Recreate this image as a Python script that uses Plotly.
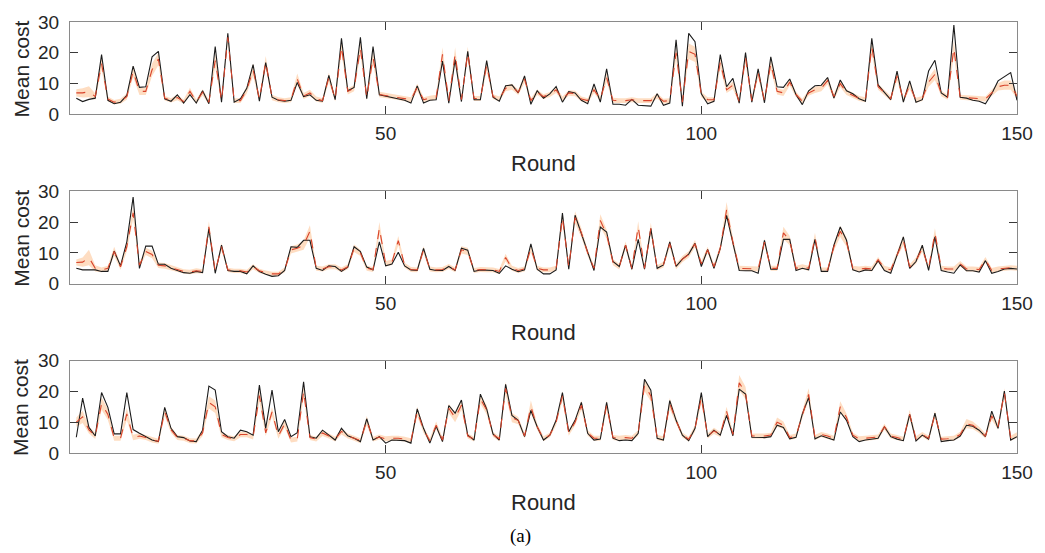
import plotly.graph_objects as go

rounds = list(range(1, 151))

# Panel 1
actual_1 = [5.3, 4.2, 4.9, 5.3, 19.4, 4.6, 3.5, 4.0, 6.2, 15.7,
            8.8, 9.0, 18.7, 20.5, 5.1, 4.3, 6.4, 3.7, 6.4, 3.7,
            7.7, 3.5, 22.0, 4.0, 26.3, 4.0, 5.1, 8.5, 16.2, 4.3,
            16.8, 5.6, 4.6, 4.3, 4.6, 10.4, 5.8, 6.4, 4.6, 4.3,
            12.7, 4.8, 24.7, 7.7, 8.8, 25.0, 5.1, 22.0, 6.4, 6.0,
            5.5, 5.1, 4.6, 3.7, 9.3, 3.7, 4.6, 4.8, 17.3, 3.7,
            17.8, 4.2, 20.5, 4.8, 4.8, 17.5, 5.6, 4.3, 9.3, 9.6,
            7.0, 12.5, 3.3, 7.7, 5.3, 6.7, 9.1, 4.0, 7.4, 7.0,
            4.6, 3.5, 9.9, 4.0, 14.8, 3.3, 3.3, 3.0, 4.9, 3.0,
            2.8, 2.7, 6.7, 3.0, 3.7, 24.2, 2.7, 26.3, 23.6, 6.7,
            3.5, 4.3, 19.4, 9.0, 11.7, 3.7, 20.1, 4.0, 14.8, 3.8,
            18.7, 9.0, 8.8, 11.5, 6.4, 3.2, 7.7, 9.3, 9.5, 12.0,
            5.3, 11.2, 7.7, 6.7, 5.1, 4.3, 24.7, 9.6, 7.2, 4.8,
            14.1, 4.0, 10.9, 4.0, 4.8, 14.1, 17.6, 7.0, 5.6, 29.0,
            5.6, 5.3, 4.6, 4.3, 3.5, 6.7, 10.9, 12.3, 13.6, 4.6]
model_1 = [7.0, 7.0, 7.4, 5.8, 16.5, 5.0, 4.0, 4.3, 5.8, 14.0,
           7.5, 7.5, 14.5, 18.0, 5.3, 4.6, 5.5, 4.2, 7.5, 4.2,
           7.2, 4.0, 17.5, 4.5, 25.0, 4.5, 4.5, 8.0, 14.5, 5.0,
           17.0, 5.5, 4.8, 4.5, 4.8, 11.5, 6.0, 7.0, 5.0, 4.5,
           12.0, 5.0, 22.0, 7.5, 8.5, 21.5, 5.5, 18.5, 6.5, 6.2,
           5.8, 5.5, 5.2, 4.8, 8.8, 4.8, 5.3, 5.6, 19.5, 4.5,
           19.5, 4.8, 20.0, 5.2, 5.2, 16.0, 5.8, 5.0, 8.5, 9.0,
           7.2, 11.5, 4.5, 7.2, 5.8, 6.5, 8.0, 5.0, 7.0, 6.8,
           5.0, 4.5, 8.0, 5.0, 12.0, 4.6, 4.5, 4.5, 4.8, 4.5,
           4.5, 4.5, 6.0, 4.3, 4.5, 20.0, 4.0, 20.5, 19.5, 6.5,
           4.8, 4.8, 17.0, 8.0, 9.5, 4.3, 18.5, 4.5, 13.5, 4.5,
           16.5, 7.5, 7.0, 10.5, 6.5, 4.3, 7.0, 8.0, 8.5, 11.0,
           5.8, 10.0, 7.2, 6.2, 5.2, 4.8, 22.0, 9.0, 7.0, 5.2,
           12.5, 4.6, 9.5, 4.6, 5.2, 10.5, 13.0, 6.8, 5.6, 21.5,
           5.6, 5.4, 5.2, 5.0, 5.0, 7.0, 9.0, 9.5, 9.5, 6.0]
spread_1 = [1.2, 1.5, 1.8, 1.0, 2.0, 0.8, 0.7, 0.8, 1.0, 1.8,
            1.2, 1.2, 2.0, 2.0, 0.8, 0.7, 0.9, 0.7, 1.2, 0.7,
            1.0, 0.7, 2.2, 0.8, 1.5, 0.8, 0.8, 1.2, 2.0, 0.8,
            2.0, 0.9, 0.8, 0.8, 0.8, 1.8, 1.0, 1.0, 0.8, 0.8,
            1.5, 0.8, 2.2, 1.0, 1.0, 2.2, 0.9, 2.0, 0.9, 0.8,
            0.8, 0.8, 0.8, 0.8, 1.2, 0.8, 0.8, 0.8, 2.2, 0.8,
            2.2, 0.8, 2.0, 0.8, 0.8, 1.8, 0.8, 0.8, 1.0, 1.0,
            0.9, 1.2, 0.8, 0.9, 0.8, 0.8, 1.0, 0.8, 0.9, 0.9,
            0.8, 0.8, 1.0, 0.8, 1.5, 0.8, 0.8, 0.8, 0.8, 0.8,
            0.8, 0.8, 0.9, 0.8, 0.8, 2.2, 0.8, 2.5, 2.5, 0.9,
            0.8, 0.8, 2.0, 1.0, 1.2, 0.8, 2.0, 0.8, 1.5, 0.8,
            2.0, 1.0, 1.0, 1.2, 0.9, 0.8, 0.9, 1.0, 1.0, 1.2,
            0.9, 1.2, 0.9, 0.9, 0.8, 0.8, 2.2, 1.0, 0.9, 0.8,
            1.5, 0.8, 1.2, 0.8, 0.8, 1.5, 1.8, 0.9, 0.8, 2.5,
            0.8, 0.8, 0.8, 0.8, 0.8, 1.0, 1.2, 1.5, 1.5, 1.0]

# Panel 2
actual_2 = [5.0, 4.5, 4.5, 4.5, 4.0, 4.0, 10.6, 5.8, 13.6, 28.1,
            5.0, 12.2, 12.2, 6.3, 6.3, 5.0, 4.3, 3.6, 3.4, 4.0,
            3.6, 17.9, 3.4, 12.5, 4.3, 4.0, 4.0, 3.2, 5.8, 4.0,
            3.1, 2.4, 2.6, 4.3, 12.0, 11.8, 14.1, 14.1, 5.0, 4.3,
            5.8, 5.6, 4.0, 5.4, 12.0, 10.4, 5.4, 4.5, 13.6, 5.8,
            6.4, 10.2, 5.8, 4.5, 4.3, 11.5, 4.7, 4.3, 4.3, 5.6,
            4.3, 11.5, 10.9, 4.0, 4.5, 4.3, 4.3, 3.4, 5.8, 4.7,
            3.9, 4.5, 12.9, 4.7, 3.2, 3.2, 4.5, 22.9, 4.7, 22.2,
            16.3, 9.9, 4.3, 18.4, 16.8, 7.2, 5.6, 12.5, 4.7, 14.4,
            4.7, 17.9, 5.0, 6.1, 13.6, 5.6, 8.0, 9.6, 13.1, 5.6,
            11.1, 5.0, 11.5, 22.2, 13.6, 4.3, 4.2, 4.2, 3.4, 14.1,
            4.7, 4.7, 14.4, 14.4, 4.3, 5.0, 4.5, 14.4, 4.0, 4.0,
            12.5, 18.4, 14.1, 4.5, 3.8, 4.5, 4.3, 7.5, 4.3, 3.4,
            9.3, 15.2, 5.0, 7.2, 12.5, 4.3, 15.2, 4.3, 3.8, 3.4,
            6.1, 4.2, 4.2, 3.8, 7.5, 3.4, 4.0, 4.8, 5.0, 4.8]
model_2 = [6.9, 7.0, 8.5, 5.0, 4.5, 5.0, 10.5, 5.5, 12.0, 23.0,
           6.0, 10.5, 9.5, 6.0, 5.8, 5.2, 4.5, 4.0, 3.8, 4.2,
           4.0, 18.5, 4.0, 12.0, 4.5, 4.2, 4.2, 3.8, 5.5, 4.2,
           3.6, 3.2, 3.2, 4.5, 11.0, 11.5, 12.5, 17.0, 5.0, 4.8,
           5.5, 5.5, 4.5, 5.5, 11.5, 10.0, 5.0, 4.6, 18.0, 6.5,
           7.0, 14.0, 6.0, 4.6, 4.5, 11.0, 4.8, 4.5, 4.6, 5.6,
           4.5, 11.0, 10.5, 4.3, 4.6, 4.5, 4.5, 4.0, 8.5, 5.0,
           4.3, 4.8, 11.5, 5.0, 4.5, 4.5, 5.0, 21.5, 5.5, 21.5,
           16.5, 10.0, 5.0, 20.5, 16.0, 7.0, 5.5, 12.5, 5.0, 18.5,
           5.0, 18.0, 5.2, 6.2, 13.0, 5.6, 8.0, 9.5, 13.0, 6.5,
           11.0, 5.5, 11.5, 24.0, 13.5, 5.0, 5.0, 5.0, 4.8, 13.5,
           5.0, 5.0, 16.5, 14.0, 5.0, 5.5, 5.0, 15.0, 4.5, 4.5,
           12.0, 17.0, 13.5, 5.0, 4.8, 5.0, 4.8, 7.8, 5.0, 4.5,
           9.5, 14.0, 5.5, 7.5, 11.5, 5.0, 16.5, 5.0, 4.8, 4.8,
           6.5, 4.8, 4.8, 4.6, 7.8, 4.3, 4.8, 5.0, 5.2, 5.0]
spread_2 = [1.0, 1.5, 2.5, 1.0, 0.8, 0.8, 1.5, 1.0, 1.5, 2.0,
            0.8, 1.2, 1.2, 0.9, 0.9, 0.8, 0.7, 0.7, 0.7, 0.8,
            0.7, 1.8, 0.7, 1.2, 0.7, 0.7, 0.7, 0.7, 0.8, 0.7,
            0.7, 0.7, 0.7, 0.8, 1.2, 1.2, 1.5, 2.0, 0.8, 0.8,
            0.8, 0.8, 0.8, 0.8, 1.2, 1.0, 0.8, 0.8, 2.0, 0.9,
            0.9, 1.5, 0.8, 0.8, 0.8, 1.2, 0.8, 0.8, 0.8, 0.8,
            0.8, 1.2, 1.2, 0.8, 0.8, 0.8, 0.8, 0.8, 1.2, 0.8,
            0.8, 0.8, 1.2, 0.8, 0.8, 0.8, 0.8, 2.0, 0.9, 2.0,
            1.5, 1.0, 0.8, 2.0, 1.5, 1.0, 0.9, 1.2, 0.8, 1.8,
            0.8, 1.8, 0.8, 0.9, 1.2, 0.9, 1.0, 1.0, 1.2, 0.9,
            1.0, 0.8, 1.2, 2.5, 1.5, 0.8, 0.8, 0.8, 0.8, 1.2,
            0.8, 0.8, 2.0, 1.5, 0.8, 0.8, 0.8, 1.5, 0.8, 0.8,
            1.2, 1.8, 1.5, 0.8, 0.8, 0.8, 0.8, 0.9, 0.8, 0.8,
            1.0, 1.5, 0.8, 1.0, 1.2, 0.8, 1.5, 0.8, 0.8, 0.8,
            0.9, 0.8, 0.8, 0.8, 0.9, 0.8, 0.8, 0.8, 0.8, 0.8]

# Panel 3
actual_3 = [5.1, 17.8, 8.3, 5.5, 19.6, 14.8, 6.2, 6.2, 19.6, 7.6,
            6.4, 5.3, 4.2, 3.7, 14.8, 8.0, 5.3, 5.0, 3.9, 3.7,
            7.4, 21.7, 20.4, 6.9, 5.3, 4.8, 7.4, 6.9, 5.8, 22.0,
            8.0, 20.4, 6.9, 10.9, 5.3, 6.6, 23.1, 5.3, 4.8, 7.4,
            5.8, 4.2, 8.0, 5.6, 4.8, 3.7, 11.1, 4.2, 5.3, 3.2,
            4.2, 4.2, 4.0, 3.2, 14.3, 8.0, 3.2, 8.7, 3.7, 15.4,
            12.9, 17.2, 5.8, 4.2, 19.1, 14.3, 6.2, 4.2, 22.3, 12.2,
            10.6, 5.3, 13.8, 8.5, 4.2, 5.8, 10.6, 19.6, 6.9, 10.6,
            16.4, 6.4, 4.2, 4.5, 16.4, 4.8, 4.0, 4.2, 4.0, 6.4,
            23.9, 20.4, 4.8, 4.2, 17.0, 10.6, 5.8, 4.0, 8.0, 19.6,
            5.3, 7.4, 5.8, 12.2, 5.6, 20.7, 19.1, 5.1, 5.1, 5.0,
            5.3, 9.0, 8.3, 4.6, 5.1, 12.7, 18.0, 4.6, 5.6, 5.0,
            4.2, 13.3, 10.6, 5.3, 3.7, 4.2, 4.6, 4.8, 8.5, 5.3,
            4.5, 4.0, 12.5, 3.9, 5.8, 4.5, 12.9, 3.7, 4.0, 4.2,
            5.5, 9.0, 8.7, 7.4, 5.3, 13.6, 8.0, 20.1, 4.2, 5.3]
model_3 = [10.0, 11.7, 7.5, 5.5, 16.0, 12.5, 4.8, 4.8, 12.7, 5.0,
           5.5, 5.0, 4.2, 3.8, 13.5, 7.5, 5.0, 4.8, 4.0, 3.9,
           6.5, 16.4, 15.0, 6.0, 5.0, 4.6, 6.0, 6.0, 5.2, 18.6,
           6.5, 13.3, 5.5, 9.5, 4.2, 4.5, 20.0, 5.0, 4.5, 6.5,
           5.5, 4.5, 7.0, 5.5, 4.8, 4.0, 10.5, 4.5, 5.2, 4.6,
           4.8, 4.8, 4.5, 4.0, 13.5, 7.5, 4.0, 9.0, 4.2, 14.5,
           11.5, 15.5, 5.5, 4.5, 17.5, 14.0, 6.0, 4.6, 21.0, 11.5,
           10.5, 5.5, 15.0, 8.5, 4.6, 5.8, 10.0, 18.5, 6.5, 10.0,
           15.5, 6.5, 4.8, 4.8, 15.5, 5.0, 4.8, 5.0, 4.8, 6.5,
           22.0, 18.5, 5.0, 4.6, 16.0, 10.5, 5.8, 4.5, 8.0, 18.0,
           5.5, 7.2, 6.0, 13.5, 6.0, 22.8, 19.5, 5.5, 5.5, 5.5,
           5.8, 10.0, 9.0, 5.0, 5.5, 12.5, 19.0, 5.0, 6.0, 5.5,
           4.8, 15.0, 11.5, 5.8, 4.6, 4.8, 5.0, 5.2, 8.5, 5.5,
           5.0, 4.5, 12.5, 4.6, 6.0, 4.8, 12.5, 4.5, 4.6, 4.8,
           6.0, 9.5, 9.0, 7.5, 5.5, 12.0, 8.5, 19.5, 4.8, 5.8]
spread_3 = [1.5, 2.0, 1.2, 1.0, 2.0, 1.8, 0.8, 0.8, 2.0, 0.9,
            0.9, 0.8, 0.8, 0.8, 1.5, 1.0, 0.8, 0.8, 0.8, 0.8,
            1.0, 2.0, 2.0, 0.9, 0.8, 0.8, 0.9, 0.9, 0.8, 2.0,
            1.0, 1.5, 0.9, 1.2, 0.8, 0.8, 2.0, 0.8, 0.8, 1.0,
            0.8, 0.8, 1.0, 0.8, 0.8, 0.8, 1.5, 0.8, 0.8, 0.8,
            0.8, 0.8, 0.8, 0.8, 1.5, 1.0, 0.8, 1.2, 0.8, 1.5,
            1.5, 1.5, 0.8, 0.8, 1.5, 1.5, 0.8, 0.8, 2.0, 1.5,
            1.2, 0.8, 2.0, 1.0, 0.8, 0.8, 1.0, 1.5, 0.9, 1.0,
            1.5, 0.9, 0.8, 0.8, 1.5, 0.8, 0.8, 0.8, 0.8, 0.9,
            2.0, 1.8, 0.8, 0.8, 1.8, 1.2, 0.8, 0.8, 1.0, 1.8,
            0.8, 1.0, 0.8, 1.5, 0.8, 2.5, 2.0, 0.8, 0.8, 0.8,
            0.8, 1.5, 1.2, 0.8, 0.8, 1.2, 2.0, 0.8, 0.8, 0.8,
            0.8, 1.8, 1.2, 0.8, 0.8, 0.8, 0.8, 0.8, 1.0, 0.8,
            0.8, 0.8, 1.5, 0.8, 0.8, 0.8, 1.2, 0.8, 0.8, 0.8,
            0.9, 1.5, 1.2, 1.0, 0.8, 1.2, 1.0, 1.5, 0.8, 0.9]

x_ticks = [50, 100, 150]
y_ticks = [0, 10, 20, 30]
x_title = "Round"
y_title = "Mean cost"
caption = "(a)"

panels = [(actual_1, model_1, spread_1),
          (actual_2, model_2, spread_2),
          (actual_3, model_3, spread_3)]

W, H = 1045, 553
ml, mr, mt, mb = 70, 24, 15, 100
plot_h = H - mt - mb
frames_px = [(15, 109), (187, 281), (359, 453)]


def py(p):
    return (H - mb - p) / plot_h


fig = go.Figure()
font_main = "Liberation Sans, Arial, sans-serif"
axis_line = "#8a8a8a"
tick_col = "#3a3a3a"

for i, (act, mod, spr) in enumerate(panels):
    n = i + 1
    xa = "x" if n == 1 else f"x{n}"
    ya = "y" if n == 1 else f"y{n}"
    upper = [m + s for m, s in zip(mod, spr)]
    lower = [m - s for m, s in zip(mod, spr)]
    fig.add_trace(go.Scatter(x=rounds, y=upper, mode="lines", line=dict(width=0),
                             hoverinfo="skip", showlegend=False, xaxis=xa, yaxis=ya))
    fig.add_trace(go.Scatter(x=rounds, y=lower, mode="lines", line=dict(width=0),
                             fill="tonexty", fillcolor="rgba(252,180,120,0.45)",
                             hoverinfo="skip", showlegend=False, xaxis=xa, yaxis=ya))
    fig.add_trace(go.Scatter(x=rounds, y=act, mode="lines",
                             line=dict(color="#1c1c1c", width=1.1),
                             showlegend=False, xaxis=xa, yaxis=ya))
    fig.add_trace(go.Scatter(x=rounds, y=mod, mode="lines",
                             line=dict(color="#d8432b", width=1.1, dash="dash"),
                             showlegend=False, xaxis=xa, yaxis=ya))

layout = dict(
    width=W, height=H,
    margin=dict(l=ml, r=mr, t=mt, b=mb),
    plot_bgcolor="white", paper_bgcolor="white",
    font=dict(family=font_main, color="#262626", size=18),
    showlegend=False,
)

annotations = []
for i, (top, bot) in enumerate(frames_px):
    n = i + 1
    xkey = "xaxis" if n == 1 else f"xaxis{n}"
    ykey = "yaxis" if n == 1 else f"yaxis{n}"
    yref = "y" if n == 1 else f"y{n}"
    layout[xkey] = dict(
        domain=[0, 1], range=[0, 150], tickvals=x_ticks,
        ticks="inside", ticklen=8, tickwidth=1, tickcolor=tick_col,
        showline=True, linecolor=axis_line, linewidth=1, mirror="ticks",
        showgrid=False, zeroline=False, anchor=yref,
        tickfont=dict(size=19, color="#262626"), ticklabelstandoff=2,
    )
    layout[ykey] = dict(
        domain=[py(bot), py(top)], range=[0, 30], tickvals=y_ticks,
        ticks="inside", ticklen=8, tickwidth=1, tickcolor=tick_col,
        showline=True, linecolor=axis_line, linewidth=1, mirror="ticks",
        showgrid=False, zeroline=False, anchor="x" if n == 1 else f"x{n}",
        tickfont=dict(size=19, color="#262626"), ticklabelstandoff=6,
    )
    mid = (top + bot) / 2
    annotations.append(dict(text=y_title, xref="paper", yref="paper",
                            x=(21 - ml) / (W - ml - mr), y=py(mid + 1),
                            xanchor="center", yanchor="middle", textangle=-90,
                            showarrow=False, font=dict(size=21, color="#262626")))
    annotations.append(dict(text=x_title, xref="paper", yref="paper",
                            x=(545 - ml) / (W - ml - mr), y=py(bot + 50),
                            xanchor="center", yanchor="middle",
                            showarrow=False, font=dict(size=22, color="#262626")))

annotations.append(dict(text=caption, xref="paper", yref="paper",
                        x=(522 - ml) / (W - ml - mr), y=py(537),
                        xanchor="center", yanchor="middle", showarrow=False,
                        font=dict(size=19, color="black",
                                  family="Liberation Serif, Times New Roman, serif")))
layout["annotations"] = annotations

fig.update_layout(**layout)
fig.write_html("out.html")
